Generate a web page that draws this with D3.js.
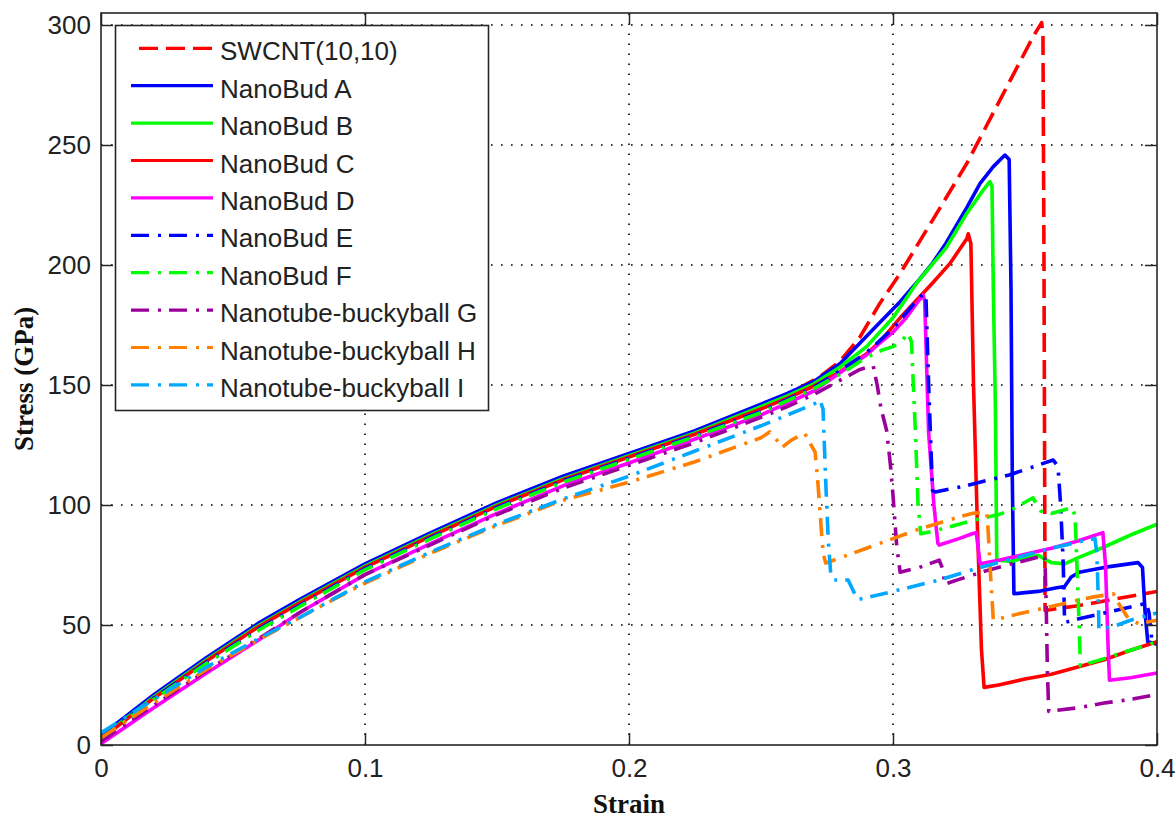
<!DOCTYPE html>
<html>
<head>
<meta charset="utf-8">
<script src="https://cdn.jsdelivr.net/npm/d3@7"></script>
<style>
  html, body { margin: 0; padding: 0; background: #fff; }
  svg { display: block; }
</style>
</head>
<body>
<svg id="chart" width="1176" height="818"></svg>
<script>
// Tensile stress-strain curves: [strain, stress (GPa)]
const swcnt = [[0,3.5],[0.02,20.5],[0.04,36],[0.06,50.5],[0.075,60],[0.1,75],[0.125,88],[0.15,100.5],[0.175,111.5],[0.2,121],[0.225,130.5],[0.25,141.5],[0.26,146],[0.2723,153.5],[0.28,160],[0.2875,170],[0.295,184],[0.3027,196.5],[0.315,218.7],[0.328,242.4],[0.3405,268.7],[0.353,295],[0.3563,301],[0.3568,296],[0.3572,200],[0.3576,56],[0.36,56.5],[0.37,58],[0.38,60],[0.39,62],[0.4,64]];
const budA = [[0,4],[0.02,21],[0.04,36.5],[0.06,51],[0.075,60.5],[0.1,75.5],[0.125,88.5],[0.15,101],[0.175,112],[0.2,121.5],[0.225,131],[0.25,142],[0.26,146.5],[0.27,151.5],[0.28,159],[0.2875,167.5],[0.295,176],[0.3027,184.7],[0.31,194],[0.315,200.8],[0.32,209],[0.328,224],[0.333,234],[0.338,241],[0.3424,245.8],[0.344,244],[0.3447,190],[0.3452,110],[0.3458,63],[0.35,63.5],[0.355,64],[0.362,65.5],[0.365,66],[0.3675,70],[0.3705,72],[0.38,74],[0.3928,76],[0.3945,74],[0.3955,55],[0.3965,43],[0.4,42]];
const budB = [[0,3],[0.02,20],[0.04,35.5],[0.06,50],[0.075,59.5],[0.1,74.5],[0.125,87.5],[0.15,100],[0.175,111],[0.2,120.5],[0.225,130],[0.25,141],[0.26,145.5],[0.27,150.5],[0.28,157.5],[0.29,166],[0.3,178],[0.309,192.5],[0.32,207],[0.328,221.6],[0.334,231],[0.3367,234.7],[0.3375,233],[0.338,190],[0.3388,140],[0.3393,77],[0.345,76.5],[0.35,78],[0.355,79],[0.36,76],[0.365,75.5],[0.37,78],[0.38,82.5],[0.39,87.5],[0.4,92]];
const budC = [[0,2.5],[0.02,19.5],[0.04,35],[0.06,49.5],[0.075,59],[0.1,74],[0.125,87],[0.15,99.5],[0.175,110.5],[0.2,120],[0.225,129.5],[0.25,140],[0.26,144.5],[0.27,149.5],[0.28,155.5],[0.29,163],[0.295,168],[0.3027,178],[0.315,192.5],[0.3217,200.8],[0.328,211],[0.3285,213],[0.3295,209],[0.3305,150],[0.332,90],[0.3335,40],[0.3345,24],[0.34,25],[0.35,27.5],[0.36,29.5],[0.37,32.5],[0.38,35.5],[0.39,39.5],[0.4,43]];
const budD = [[0,0.5],[0.02,15.5],[0.04,30],[0.06,44],[0.075,55],[0.1,71],[0.125,84],[0.15,96.5],[0.175,108],[0.2,117.5],[0.225,127.5],[0.25,137.5],[0.26,142.5],[0.27,147.5],[0.2837,158],[0.29,162.5],[0.295,167.5],[0.3,172],[0.305,178],[0.31,185.5],[0.3114,187.5],[0.312,185],[0.3135,130],[0.3155,100],[0.317,84],[0.3175,83.3],[0.325,86],[0.33,88],[0.3315,88.5],[0.3325,80],[0.333,75.5],[0.34,77],[0.35,79.5],[0.36,82],[0.37,85],[0.3795,88.5],[0.3805,75],[0.3815,40],[0.382,27],[0.39,28],[0.4,30]];
const budE = [[0,3],[0.02,19.5],[0.04,34.5],[0.06,48.5],[0.075,58],[0.1,73.5],[0.125,86.5],[0.15,99],[0.175,110],[0.2,119.5],[0.225,129],[0.25,139],[0.26,144],[0.27,149],[0.28,156],[0.29,163.5],[0.3,173.5],[0.305,180],[0.31,186.5],[0.3118,188],[0.3125,186],[0.3135,150],[0.3145,120],[0.315,106],[0.316,105.4],[0.3275,108],[0.344,112.5],[0.3607,118.75],[0.3625,116],[0.3635,100],[0.3645,75],[0.365,51],[0.37,52.5],[0.38,55],[0.39,57.5],[0.396,59],[0.397,55],[0.398,44],[0.4,43]];
const budF = [[0,2.5],[0.02,19],[0.04,34],[0.06,48],[0.075,57.5],[0.1,73],[0.125,86],[0.15,98.5],[0.175,109.5],[0.2,119],[0.225,128.5],[0.25,138.5],[0.26,143.5],[0.27,148.5],[0.28,154.5],[0.29,161.5],[0.296,164.6],[0.3,166],[0.303,168],[0.3057,171.5],[0.307,168],[0.3085,130],[0.3095,100],[0.3105,88],[0.315,89],[0.32,90.5],[0.33,93.5],[0.34,96],[0.345,98],[0.353,103],[0.356,97.5],[0.36,96.5],[0.365,98],[0.368,99],[0.369,95],[0.3695,80],[0.3705,50],[0.371,33],[0.38,36],[0.39,39.5],[0.4,43]];
const ballG = [[0,1.5],[0.02,16.5],[0.04,31],[0.06,44.5],[0.075,55],[0.1,71],[0.125,83.5],[0.15,96],[0.175,107],[0.2,116.5],[0.225,126],[0.25,136.5],[0.26,141],[0.27,146],[0.28,152],[0.2875,156.5],[0.2925,158],[0.294,150],[0.2955,140],[0.2976,131],[0.299,117],[0.3,104],[0.3014,83],[0.3027,72],[0.31,74],[0.3175,77],[0.319,73],[0.3195,67],[0.325,69],[0.335,72.5],[0.345,75.5],[0.3575,79],[0.358,60],[0.3585,30],[0.359,14],[0.37,15.5],[0.38,17.5],[0.39,19],[0.4,21]];
const ballH = [[0,3],[0.02,17.5],[0.04,31.5],[0.06,44],[0.075,53],[0.1,67.5],[0.125,80],[0.15,91.5],[0.175,102],[0.2,109.5],[0.225,118],[0.25,128],[0.2534,130.5],[0.256,127],[0.258,124],[0.2615,127],[0.2665,130],[0.2685,126],[0.2705,122],[0.2715,110],[0.2725,95],[0.2735,80],[0.2745,75.8],[0.28,78],[0.29,82],[0.3,86],[0.31,90],[0.3175,92.5],[0.325,95],[0.33,96.5],[0.3355,97],[0.336,90],[0.337,70],[0.338,52],[0.345,54],[0.355,56.5],[0.365,59],[0.375,61.5],[0.3835,63],[0.386,58],[0.389,53],[0.393,50.5],[0.4,52]];
const ballI = [[0,5],[0.02,19],[0.04,32.5],[0.06,44.5],[0.075,53],[0.1,68],[0.125,80.5],[0.15,92],[0.175,102.5],[0.2,112],[0.225,122.5],[0.25,133],[0.26,137.5],[0.27,142],[0.2723,143.75],[0.2735,140],[0.2745,110],[0.2755,85],[0.2765,70],[0.2775,68.75],[0.283,68.75],[0.2855,63],[0.2865,60.5],[0.3,64],[0.3175,68.75],[0.33,73],[0.34,76],[0.35,79],[0.36,82],[0.37,84.5],[0.3765,86],[0.3772,80],[0.3778,60],[0.378,48],[0.385,50],[0.39,52],[0.4,55]];

const seriesNames = ["SWCNT(10,10)", "NanoBud A", "NanoBud B", "NanoBud C", "NanoBud D", "NanoBud E", "NanoBud F",
  "Nanotube-buckyball G", "Nanotube-buckyball H", "Nanotube-buckyball I"];
const seriesData = [swcnt, budA, budB, budC, budD, budE, budF, ballG, ballH, ballI];
const seriesColors = ["#ff0000", "#0000ff", "#00ff00", "#ff0000", "#ff00ff", "#0000ff", "#00ff00", "#9c009c", "#ff8000", "#00a8ff"];
const seriesStyles = ["dash", "solid", "solid", "solid", "solid", "dashdot", "dashdot", "dashdot", "dashdot", "dashdot"];

const xTicks = [0, 0.1, 0.2, 0.3, 0.4];
const yTicks = [0, 50, 100, 150, 200, 250, 300];

const dashArrays = { solid: null, dash: "19,8", dashdot: "18,9,3,8" };

const plot = { left: 101, right: 1157, top: 13, bottom: 745 };

const svg = d3.select("#chart");
const x = d3.scaleLinear().domain([0, 0.4]).range([plot.left, plot.right]);
const y = d3.scaleLinear().domain([0, 305]).range([plot.bottom, plot.top]);

svg.append("defs").append("clipPath").attr("id", "plotClip")
  .append("rect")
  .attr("x", plot.left).attr("y", plot.top)
  .attr("width", plot.right - plot.left).attr("height", plot.bottom - plot.top);

// dotted grid
const grid = svg.append("g").attr("class", "grid")
  .attr("stroke", "#000").attr("stroke-width", 1.6).attr("stroke-dasharray", "1.6,8.4");
grid.selectAll("line.gx").data(xTicks.filter(t => t > 0 && t < 0.4)).join("line")
  .attr("x1", d => x(d)).attr("x2", d => x(d))
  .attr("y1", plot.bottom).attr("y2", plot.top);
grid.selectAll("line.gy").data(yTicks.filter(t => t > 0)).join("line")
  .attr("y1", d => y(d)).attr("y2", d => y(d))
  .attr("x1", plot.left).attr("x2", plot.right);

// curves
const line = d3.line().x(d => x(d[0])).y(d => y(d[1]));
const curves = svg.append("g").attr("clip-path", "url(#plotClip)");
seriesData.forEach((data, i) => {
  curves.append("path")
    .datum(data)
    .attr("d", line)
    .attr("fill", "none")
    .attr("stroke", seriesColors[i])
    .attr("stroke-width", 3.6)
    .attr("stroke-linejoin", "round")
    .attr("stroke-dasharray", dashArrays[seriesStyles[i]]);
});

// axes with inward ticks on all four sides
const tickLen = 12;
const axisColor = "#262626";
const axBottom = d3.axisBottom(x).tickValues(xTicks).tickSizeInner(-tickLen).tickSizeOuter(0).tickPadding(14)
  .tickFormat(d => d === 0 ? "0" : d3.format(".1f")(d));
const axTop = d3.axisTop(x).tickValues(xTicks).tickSizeInner(-tickLen).tickSizeOuter(0).tickFormat("");
const axLeft = d3.axisLeft(y).tickValues(yTicks).tickSizeInner(-tickLen).tickSizeOuter(0).tickPadding(10);
const axRight = d3.axisRight(y).tickValues(yTicks).tickSizeInner(-tickLen).tickSizeOuter(0).tickFormat("");

function styleAxis(g) {
  g.select(".domain").remove();
  g.selectAll(".tick line").attr("stroke", axisColor).attr("stroke-width", 1.5);
  g.selectAll(".tick text").attr("fill", "#222")
    .attr("font-family", "'Liberation Sans', Arial, sans-serif").attr("font-size", 26);
}
svg.append("g").attr("transform", `translate(0,${plot.bottom})`).call(axBottom).call(styleAxis);
svg.append("g").attr("transform", `translate(0,${plot.top})`).call(axTop).call(styleAxis);
svg.append("g").attr("transform", `translate(${plot.left},0)`).call(axLeft).call(styleAxis);
svg.append("g").attr("transform", `translate(${plot.right},0)`).call(axRight).call(styleAxis);

svg.append("rect")
  .attr("x", plot.left).attr("y", plot.top)
  .attr("width", plot.right - plot.left).attr("height", plot.bottom - plot.top)
  .attr("fill", "none").attr("stroke", axisColor).attr("stroke-width", 1.6);

// axis titles
svg.append("text")
  .attr("x", (plot.left + plot.right) / 2).attr("y", 813)
  .attr("text-anchor", "middle")
  .attr("font-family", "'Liberation Serif', 'Times New Roman', serif")
  .attr("font-weight", "bold").attr("font-size", 27).attr("fill", "#111")
  .text("Strain");
svg.append("text")
  .attr("transform", `translate(33,${(plot.top + plot.bottom) / 2}) rotate(-90)`)
  .attr("text-anchor", "middle")
  .attr("font-family", "'Liberation Serif', 'Times New Roman', serif")
  .attr("font-weight", "bold").attr("font-size", 27).attr("fill", "#111")
  .text("Stress (GPa)");

// legend
const legend = svg.append("g");
legend.append("rect")
  .attr("x", 115.5).attr("y", 25.5).attr("width", 373).attr("height", 385)
  .attr("fill", "#fff").attr("stroke", axisColor).attr("stroke-width", 1.6);
seriesNames.forEach((name, i) => {
  const ry = 48.3 + 37.4 * i;
  legend.append("line")
    .attr("x1", 131).attr("x2", 213).attr("y1", ry).attr("y2", ry)
    .attr("stroke", seriesColors[i]).attr("stroke-width", 3.2)
    .attr("stroke-dasharray", dashArrays[seriesStyles[i]])
    .attr("stroke-dashoffset", seriesStyles[i] === "dash" ? 19 : 0);
  legend.append("text")
    .attr("x", 220).attr("y", ry + 12)
    .attr("font-family", "'Liberation Sans', Arial, sans-serif").attr("font-size", 26)
    .attr("fill", "#222")
    .text(name);
});
</script>
</body>
</html>
